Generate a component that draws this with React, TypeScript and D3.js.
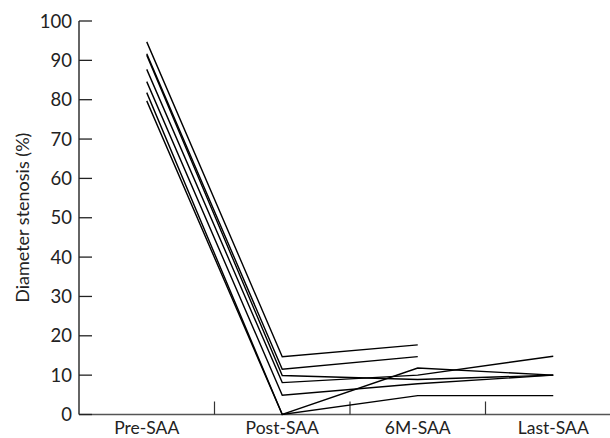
import React from "react";
import * as d3 from "d3";

const categories = ["Pre-SAA", "Post-SAA", "6M-SAA", "Last-SAA"];
const yTicks = [0, 10, 20, 30, 40, 50, 60, 70, 80, 90, 100];

const patient1 = [94.7, 14.7, 17.7, null];
const patient2 = [91.7, 11.5, 14.7, null];
const patient3 = [91.3, 9.9, 8.9, 10];
const patient4 = [87.7, 8.1, 10, 14.8];
const patient5 = [84.6, 4.9, 7.8, 10];
const patient6 = [81.8, 0, 11.8, 10];
const patient7 = [79.7, 0, 4.8, 4.8];

const patients = [patient1, patient2, patient3, patient4, patient5, patient6, patient7];

const W = 610;
const H = 438;
const FONT = "Lato, 'Open Sans', sans-serif";

export default function App() {
  const x = d3.scaleBand<string>().domain(categories).range([79, 621]).padding(0);
  const y = d3.scaleLinear().domain([0, 100]).range([414.5, 21]);
  const cx = (c: string) => (x(c) as number) + x.bandwidth() / 2;

  const line = d3
    .line<number | null>()
    .defined((d) => d !== null)
    .x((_, i) => cx(categories[i]))
    .y((d) => y(d as number));

  const boundaries = categories.slice(1).map((c) => x(c) as number);

  return (
    <svg
      width={W}
      height={H}
      style={{ position: "absolute", left: 0, top: 0, background: "#fff" }}
    >
      {/* x axis */}
      <line x1={79} x2={W} y1={y(0)} y2={y(0)} stroke="#555" strokeWidth={1.3} />
      {boundaries.map((b, i) => (
        <line key={i} x1={b} x2={b} y1={y(0)} y2={y(0) - 13} stroke="#333" strokeWidth={1.2} />
      ))}
      {categories.map((c) => (
        <text
          key={c}
          x={cx(c)}
          y={434}
          textAnchor="middle"
          fontFamily={FONT}
          fontSize={17.5}
          fill="#222"
        >
          {c}
        </text>
      ))}
      {/* y axis */}
      <line x1={79} x2={79} y1={y(100)} y2={y(0)} stroke="#111" strokeWidth={1.3} />
      {yTicks.map((t) => (
        <g key={t}>
          <line x1={79} x2={92} y1={y(t)} y2={y(t)} stroke="#222" strokeWidth={1.3} />
          <text
            x={72}
            y={y(t)}
            dy="0.36em"
            textAnchor="end"
            fontFamily={FONT}
            fontSize={18.5}
            fill="#222"
          >
            {t}
          </text>
        </g>
      ))}
      <text
        transform={`translate(29,${(y(0) + y(100)) / 2}) rotate(-90)`}
        textAnchor="middle"
        fontFamily={FONT}
        fontSize={18}
        fill="#222"
      >
        Diameter stenosis (%)
      </text>
      {/* patient lines */}
      {patients.map((p, i) => (
        <path key={i} d={line(p) || ""} fill="none" stroke="#000" strokeWidth={1.4} />
      ))}
    </svg>
  );
}
